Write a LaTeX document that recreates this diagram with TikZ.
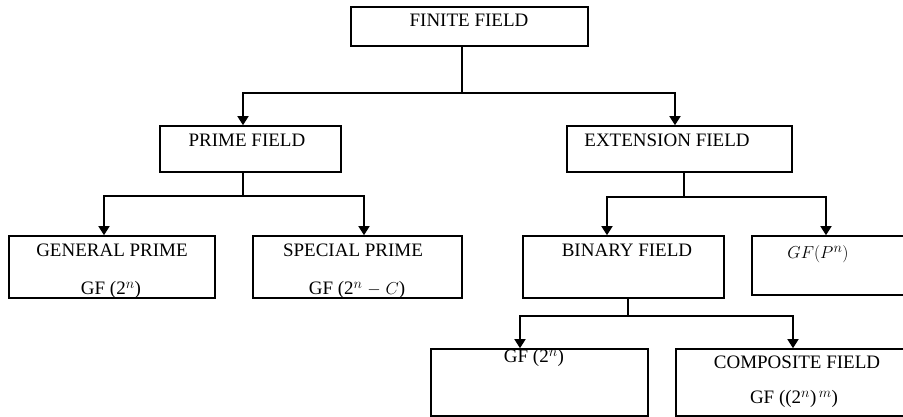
\documentclass[tikz,border=0pt]{standalone}
\usepackage{fontspec}
\setmainfont{Liberation Serif}
\usetikzlibrary{arrows.meta}

\tikzset{
	box/.style={draw, line width=1.6pt, inner sep=0pt},
	lbl/.style={font=\fontsize{19}{21}\selectfont, inner sep=0pt},
	link/.style={line width=1.5pt},
	arr/.style={link, -{Triangle[width=11pt,length=9pt]}}
}

\begin{document}
\begin{tikzpicture}[x=1pt,y=-1pt]
			\useasboundingbox (0,0) rectangle (903,417);
			\clip (0,0) rectangle (903,417);
			% boxes
			\node[box, minimum width=237pt, minimum height=39pt] (finite) at (469.5,26.5) {};
			\node[box, minimum width=181pt, minimum height=46pt] (prime) at (250.5,149) {};
			\node[box, minimum width=225pt, minimum height=46pt] (ext) at (679.5,149) {};
			\node[box, minimum width=206pt, minimum height=62pt] (gen) at (112,267) {};
			\node[box, minimum width=209pt, minimum height=62pt] (spec) at (357.5,267) {};
			\node[box, minimum width=201pt, minimum height=62pt] (bin) at (623.5,267) {};
			\node[box, minimum width=158pt, minimum height=59pt] (gfp) at (831,265.5) {};
			\node[box, minimum width=217pt, minimum height=67pt] (gftwo) at (539.5,382.5) {};
			\node[box, minimum width=234pt, minimum height=67pt] (comp) at (793,382.5) {};
			% texts
			\node[lbl] (finitetxt) at (469,20) {FINITE FIELD};
			\node[lbl] (primetxt) at (247,140) {PRIME FIELD};
			\node[lbl] (exttxt) at (667,140) {EXTENSION FIELD};
			\node[lbl] (gentxt) at (112,250) {GENERAL PRIME};
			\node[lbl] (genform) at (111,290) {GF (2$^{n}$)};
			\node[lbl] (spectxt) at (353,250) {SPECIAL PRIME};
			\node[lbl] (specform) at (357,290) {GF (2$^{n}$ $-$ $C$)};
			\node[lbl] (bintxt) at (627,250) {BINARY FIELD};
			\node[lbl] (gfptxt) at (818,254) {$GF(P^{n})$};
			\node[lbl] (gftwotxt) at (534,358) {GF (2$^{n}$)};
			\node[lbl] (comptxt) at (797,362) {COMPOSITE FIELD};
			\node[lbl] (compform) at (794,399) {GF ((2$^{n}$)$^{\,m}$)};
			% connectors
			\coordinate (fj) at (462,93);
			\draw[link] (finite.south -| fj) -- (fj);
			\draw[arr] (fj) -| ([xshift=-7.5pt]prime.north);
			\draw[arr] (fj) -| ([xshift=-4.5pt]ext.north);
			\coordinate (pj) at (243,196);
			\draw[link] (prime.south -| pj) -- (pj);
			\draw[arr] (pj) -| ([xshift=-8pt]gen.north);
			\draw[arr] (pj) -| ([xshift=6.5pt]spec.north);
			\coordinate (ej) at (684,197);
			\draw[link] (ext.south -| ej) -- (ej);
			\draw[arr] (ej) -| ([xshift=-16.5pt]bin.north);
			\draw[arr] (ej) -| ([xshift=-5pt]gfp.north);
			\coordinate (bj) at (628,316);
			\draw[link] (bin.south -| bj) -- (bj);
			\draw[arr] (bj) -| ([xshift=-19.5pt]gftwo.north);
			\draw[arr] (bj) -| (comp.north);
		\end{tikzpicture}
\end{document}
